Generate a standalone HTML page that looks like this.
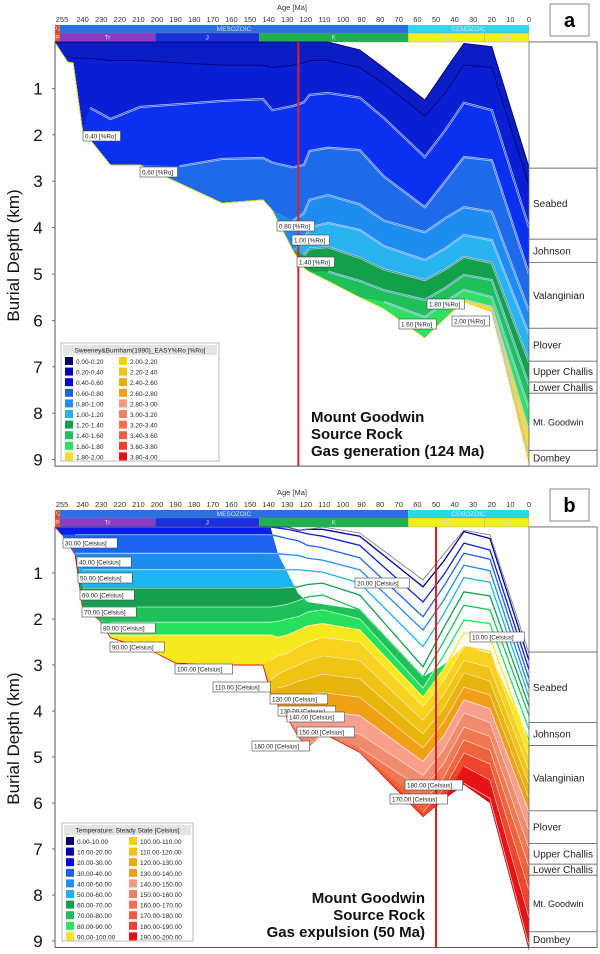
<!DOCTYPE html>
<html><head><meta charset="utf-8">
<style>
html,body{margin:0;padding:0;background:#fff;}
svg{display:block;font-family:"Liberation Sans",sans-serif;}
.tk{font-size:7.5px;fill:#333;text-anchor:middle;}
.lb{font-size:6.3px;fill:#222;}
.fm{font-size:10px;fill:#222;}
.lg{font-size:6.5px;fill:#222;}
.big{font-size:15px;font-weight:bold;fill:#111;}
.ax{font-size:17px;fill:#111;}
</style></head>
<body>
<svg id="fig" width="600" height="954" viewBox="0 0 600 954">
<g id="panelA"></g>
<g id="panelB"></g>
</svg>
<script>
// ---------- Panel A data (EASY%Ro) ----------
const agesA = [255,248,245,240,236,225,209,188,165,143,138,127,121,118,108,91,78,56,45,35,20,0];
const topA  = [0,0,0,0,0,0,0,0,0,0,0,0,0,0,0,0.17,0.56,1.25,0.6,0.03,0.1,2.7];
const baseA = [0,0.43,0.45,1.9,2.1,2.65,2.65,3.04,3.47,3.4,3.62,4.48,4.87,4.95,5.15,5.5,5.75,6.38,5.95,5.6,5.82,9.1];
const ro02 = [0,0.3,0.35,0.35,0.35,0.4,0.4,0.45,0.5,0.5,0.55,0.5,0.45,0.4,0.4,0.55,0.9,1.6,1.1,0.5,0.55,3.1];
const ro04 = [9,9,9,1.9,1.42,1.66,1.4,1.34,1.27,1.23,1.47,1.38,1.3,1.14,1.1,1.2,1.64,2.48,1.9,1.31,1.47,4.0];
const ro06 = [9,9,9,9,9,9,2.65,2.68,2.52,2.5,2.6,2.7,2.65,2.35,2.28,2.33,2.9,3.56,3.0,2.48,2.55,5.0];
const ro08 = [9,9,9,9,9,9,9,9,9,9,3.8,3.85,3.69,3.4,3.3,3.5,3.85,4.1,3.8,3.56,3.66,5.8];
const ro10 = [9,9,9,9,9,9,9,9,9,9,9,9,4.27,4.0,3.9,4.05,4.4,4.7,4.45,4.16,4.27,6.3];
const ro12 = [9,9,9,9,9,9,9,9,9,9,9,9,4.6,4.45,4.42,4.65,4.9,5.13,4.9,4.63,4.76,6.9];
const ro14 = [9,9,9,9,9,9,9,9,9,9,9,9,9,9,4.95,5.15,5.35,5.56,5.3,5.02,5.13,7.4];
const ro16 = [9,9,9,9,9,9,9,9,9,9,9,9,9,9,9,9,5.6,5.93,5.6,5.34,5.5,7.9];
const ro18 = [9,9,9,9,9,9,9,9,9,9,9,9,9,9,9,9,9,9,9,5.56,5.71,8.4];
const ro20 = [9,9,9,9,9,9,9,9,9,9,9,9,9,9,9,9,9,9,9,9,5.78,8.9];
const roLines = [ro02,ro04,ro06,ro08,ro10,ro12,ro14,ro16,ro18,ro20];
const roBandColors = ["#0a1cc4","#0a1ed4","#0a30f0","#1e6ae8","#1e8cf0","#28b4f0","#12a048","#1ec05a","#30e060","#f8e020","#f8d010"];
const roLegendLabels = ["0.00-0.20","0.20-0.40","0.40-0.60","0.60-0.80","0.80-1.00","1.00-1.20","1.20-1.40","1.40-1.60","1.60-1.80","1.80-2.00","2.00-2.20","2.20-2.40","2.40-2.60","2.60-2.80","2.80-3.00","3.00-3.20","3.20-3.40","3.40-3.60","3.60-3.80","3.80-4.00"];
const roLegendColors = ["#00006e","#0000b4","#0000f0","#2060e8","#2090f0","#20b0f0","#10a050","#20c060","#30e060","#f8e020","#f8d010","#f8c010","#e8b000","#f0a010","#f89880","#f08060","#f07050","#f06040","#f04030","#e81010"];
const roLabels = [["0.40 [%Ro]",83,131],["0.60 [%Ro]",140,167],["0.80 [%Ro]",277,221],["1.00 [%Ro]",292,235],["1.40 [%Ro]",297,257],["1.60 [%Ro]",399,319],["1.80 [%Ro]",427,299],["2.00 [%Ro]",452,316]];

// ---------- Panel B data (Temperature) ----------
const agesB = [255,251,244,240,231,225,204,190,170,143,139,135,130,124,119,111,91,57,46,35,21,0];
const topB  = [0,0,0,0,0,0,0,0,0,0,0,0,0,0.07,0.05,0,0.13,1.15,0.6,0.07,0.17,2.75];
const baseB = [0,0.17,0.6,1.76,2.02,2.41,2.67,2.96,3.0,3.0,3.6,3.87,4.15,4.56,4.8,4.48,4.9,6.3,5.93,5.6,6.0,9.2];
const cutB  = [0,0,0,0,0,0,0,0,0,0,0,0.58,0.98,1.45,1.63,1.68,1.8,3.26,3.0,2.6,2.75,4.6];
const t10 = [0,0,0,0,0,0,0,0,0,0,0,0,0,0.07,0.05,0.05,0.2,1.3,0.75,0.1,0.25,2.9];
const t20 = [0,0,0,0,0,0,0,0,0,0,0,0.02,0.05,0.1,0.15,0.2,0.4,1.63,1.05,0.35,0.5,3.1];
const t30 = [0.17,0.17,0.17,0.17,0.17,0.17,0.17,0.17,0.17,0.17,0.17,0.2,0.25,0.3,0.4,0.45,0.67,1.95,1.3,0.57,0.7,3.3];
const t40 = [0.57,0.57,0.57,0.57,0.57,0.57,0.57,0.57,0.57,0.57,0.57,0.58,0.6,0.62,0.68,0.72,0.93,2.24,1.6,0.83,0.95,3.5];
const t50 = [0.93,0.93,0.93,0.93,0.93,0.93,0.93,0.93,0.93,0.93,0.93,0.93,0.93,0.93,0.95,0.98,1.22,2.6,1.9,1.1,1.2,3.7];
const t60 = [1.33,1.33,1.33,1.33,1.33,1.33,1.33,1.33,1.33,1.33,1.33,1.33,1.32,1.3,1.25,1.22,1.48,3.04,2.2,1.41,1.5,3.9];
const t70 = [1.74,1.74,1.74,1.74,1.74,1.74,1.74,1.74,1.74,1.74,1.74,1.72,1.68,1.6,1.52,1.48,1.8,3.26,2.5,1.7,1.8,4.1];
const t80 = [2.07,2.07,2.07,2.07,2.07,2.07,2.07,2.07,2.07,2.07,2.07,2.05,2.0,1.95,1.85,1.8,2.0,3.5,2.8,2.02,2.1,4.4];
const t90 = [2.35,2.35,2.35,2.35,2.35,2.35,2.35,2.35,2.35,2.35,2.35,2.4,2.35,2.25,2.15,2.1,2.24,3.7,3.1,2.3,2.4,4.7];
const t100 = [3.05,3.05,3.05,3.05,3.05,3.05,3.05,3.05,3.05,3.05,2.9,2.8,2.75,2.6,2.5,2.4,2.5,3.9,3.35,2.6,2.7,5.0];
const t110 = [3.33,3.33,3.33,3.33,3.33,3.33,3.33,3.33,3.33,3.33,3.33,3.2,3.1,3.0,2.9,2.8,2.9,4.2,3.65,2.9,3.05,5.3];
const t120 = [3.6,3.6,3.6,3.6,3.6,3.6,3.6,3.6,3.6,3.6,3.6,3.5,3.45,3.35,3.3,3.2,3.3,4.5,3.95,3.17,3.35,5.6];
const t130 = [3.87,3.87,3.87,3.87,3.87,3.87,3.87,3.87,3.87,3.87,3.87,3.87,3.8,3.7,3.65,3.6,3.7,4.8,4.25,3.48,3.65,5.9];
const t140 = [4.15,4.15,4.15,4.15,4.15,4.15,4.15,4.15,4.15,4.15,4.15,4.1,4.15,4.05,4.0,4.0,4.1,5.1,4.55,3.76,3.95,6.2];
const t150 = [4.56,4.56,4.56,4.56,4.56,4.56,4.56,4.56,4.56,4.56,4.56,4.56,4.5,4.45,4.4,4.35,4.5,5.4,4.85,4.04,4.25,6.6];
const t160 = [4.85,4.85,4.85,4.85,4.85,4.85,4.85,4.85,4.85,4.85,4.85,4.85,4.85,4.8,4.75,9,4.8,5.7,5.15,4.35,4.55,7.0];
const t170 = [9,9,9,9,9,9,9,9,9,9,9,9,9,9,9,9,9,6.0,5.45,4.63,4.85,7.4];
const t180 = [9,9,9,9,9,9,9,9,9,9,9,9,9,9,9,9,9,6.2,5.7,4.91,5.15,7.9];
const t190 = [9,9,9,9,9,9,9,9,9,9,9,9,9,9,9,9,9,9,9,5.2,5.5,8.5];
const t200 = [9,9,9,9,9,9,9,9,9,9,9,9,9,9,9,9,9,9,9,5.57,5.9,9.1];
const tLines = [t10,t20,t30,t40,t50,t60,t70,t80,t90,t100,t110,t120,t130,t140,t150,t160,t170,t180,t190,t200];
const tBandColors = ["#00006e","#0000a8","#0a1ee6","#1e64f0","#1e8cf0","#1eb4f0","#14a050","#1ec05a","#28e060","#f8e81e","#f8d21e","#f0c414","#e6b40a","#f0a014","#f8a08c","#f08c6e","#f07855","#f0643c","#f0462d","#e61414","#d01010"];
const tLegendLabels = ["0.00-10.00","10.00-20.00","20.00-30.00","30.00-40.00","40.00-50.00","50.00-60.00","60.00-70.00","70.00-80.00","80.00-90.00","90.00-100.00","100.00-110.00","110.00-120.00","120.00-130.00","130.00-140.00","140.00-150.00","150.00-160.00","160.00-170.00","170.00-180.00","180.00-190.00","190.00-200.00"];
const tLegendColors = ["#00006e","#0000b4","#0000f0","#2060e8","#2090f0","#20b0f0","#10a050","#20c060","#30e060","#f8e020","#f8d010","#f8c010","#e8b000","#f0a010","#f89880","#f08060","#f07050","#f06040","#f04030","#e81010"];
const tLabels = [["30.00 [Celsius]",63,538],["40.00 [Celsius]",77,557],["50.00 [Celsius]",78,573],["60.00 [Celsius]",80,590],["70.00 [Celsius]",82,607],["80.00 [Celsius]",101,623],["90.00 [Celsius]",110,642],["100.00 [Celsius]",175,664],["110.00 [Celsius]",213,682],["120.00 [Celsius]",270,694],["130.00 [Celsius]",278,706],["140.00 [Celsius]",287,712],["150.00 [Celsius]",297,727],["160.00 [Celsius]",252,741],["20.00 [Celsius]",355,578],["10.00 [Celsius]",470,632],["180.00 [Celsius]",405,780],["170.00 [Celsius]",390,794]];

// ---------- shared ----------
const ageTicks = [255,240,230,220,210,200,190,180,170,160,150,140,130,120,110,100,90,80,70,60,50,40,30,20,10,0];
const depthTicks = [1,2,3,4,5,6,7,8,9];
const formations = ["","Seabed","Johnson","Valanginian","Plover","Upper Challis","Lower Challis","Mt. Goodwin","Dombey"];
const formationTops = [0,2.72,4.25,4.75,6.17,6.88,7.33,7.57,8.8,9.14];
const eras = [["PZ",260,252.2,"#e04020"],["MESOZOIC",252.2,65,"#2a70e0"],["CENOZOIC",65,0,"#30d4ec"]];
const periods = [["P",260,252.2,"#f05020"],["Tr",252.2,201,"#8a3cc8"],["J",201,145,"#1a30e0"],["K",145,65,"#20b050"],["Pg",65,24,"#f0f020"],["Ng",24,0,"#f0f020"]];

const NS = "http://www.w3.org/2000/svg";
function mk(parent, tag, attrs, text){
  const e = document.createElementNS(NS, tag);
  for (const k in attrs) e.setAttribute(k, attrs[k]);
  if (text !== undefined) e.textContent = text;
  parent.appendChild(e);
  return e;
}
const xAge = a => 529 - 1.86 * a;

function drawPanel(g, cfg){
  const y = d => cfg.y0 + cfg.k * d;
  const A = cfg.ages, T = cfg.top, B = cfg.base;
  const cl = (v,i) => Math.min(Math.max(v, T[i]), B[i]);
  const lines = [T].concat(cfg.lines).concat([B]);
  const hy = cfg.y0;
  let t = mk(g,'text',{x:292,y:hy-32,'class':'tk'},'Age [Ma]');
  
  
  ageTicks.forEach(a=>{
    const e = mk(g,'text',{x:(a===255?62:xAge(a)),y:hy-20,'class':'tk'},String(a));
    
    
  });
  eras.forEach(p=>{
    const r = mk(g,'rect',{x:Math.max(55,xAge(p[1])),y:hy-17,width:xAge(p[2])-Math.max(55,xAge(p[1])),height:8,fill:p[3]});
    
    
    const tx = mk(g,'text',{x:(Math.max(55,xAge(p[1]))+xAge(p[2]))/2,y:hy-11,'class':'tk',style:'fill:#cfe4ff;font-size:6.5px'},p[0]);
    
    
  });
  periods.forEach(p=>{
    const r = mk(g,'rect',{x:Math.max(55,xAge(p[1])),y:hy-9,width:xAge(p[2])-Math.max(55,xAge(p[1])),height:9,fill:p[3],stroke:'#888','stroke-width':0.3});
    
    
    const tx = mk(g,'text',{x:(Math.max(55,xAge(p[1]))+xAge(p[2]))/2,y:hy-2.5,'class':'tk',style:'fill:#dde;font-size:6.5px'},p[0]);
    
    
  });
  let fillGroup = mk(g,'g',{});
  
  
  if (cfg.cut){
    const id = 'clip'+cfg.id;
    const cp = mk(g,'clipPath',{id:id});
    let pts = A.map((a,i)=>xAge(a)+','+y(Math.max(cfg.cut[i],T[i])));
    pts.push(xAge(0)+','+y(10)); pts.push(xAge(A[0])+','+y(10));
    mk(cp,'polygon',{points:pts.join(' ')});
    fillGroup.setAttribute('clip-path','url(#'+id+')');
  }
  for (let b=0;b<lines.length-1;b++){
    const up = lines[b], lo = lines[b+1];
    const pts = [];
    A.forEach((a,i)=>pts.push(xAge(a)+','+y(cl(up[i],i))));
    for (let i=A.length-1;i>=0;i--) pts.push(xAge(A[i])+','+y(cl(lo[i],i)));
    const p = mk(fillGroup,'polygon',{points:pts.join(' '),fill:cfg.colors[b],stroke:cfg.colors[b],'stroke-width':0.4});
    
    
  }
  cfg.lines.forEach((L,li)=>{
    let seg=[];
    const segs=[];
    A.forEach((a,i)=>{
      const v = cl(L[i],i);
      if (v < B[i]-0.005 && v > T[i]+0.005 || (seg.length && v < B[i]-0.005)) seg.push(xAge(a)+','+y(v));
      else { if (seg.length) { seg.push(xAge(a)+','+y(v)); segs.push(seg);} seg=[]; if (v < B[i]-0.005) seg.push(xAge(a)+','+y(v)); }
    });
    if (seg.length>1) segs.push(seg);
    segs.forEach(s=>{
      if (s.length<2) return;
      if (cfg.cut){
        const l1 = mk(g,'polyline',{points:s.join(' '),fill:'none',stroke:cfg.colors[li+1],'stroke-width':1.3});
        
        
        const l2 = mk(g,'polyline',{points:s.join(' '),fill:'none',stroke:'#ffffff','stroke-width':0.7,'clip-path':'url(#clip'+cfg.id+')',opacity:0.8});
        
        
      } else {
        const w = li===0 ? 0.8 : 2.2;
        const l1 = mk(g,'polyline',{points:s.join(' '),fill:'none',stroke:li===0?'#000070':'#b8c8ff','stroke-width':w});
        
        
        if (li>0){
          const l2 = mk(g,'polyline',{points:s.join(' '),fill:'none',stroke:cfg.colors[li+1],'stroke-width':0.7});
          
          
        }
      }
    });
  });
  const ol = mk(g,'polyline',{points:A.map((a,i)=>xAge(a)+','+y(T[i])).join(' '),fill:'none',stroke:cfg.cut?'#777':'#000060','stroke-width':0.8});
  
  
  const yb = y(9.14);
  const ax = mk(g,'path',{d:`M55 ${cfg.y0} V${yb} H597 V${cfg.y0} H529`,fill:'none',stroke:'#555','stroke-width':1});
  
  
  depthTicks.forEach(d=>{
    mk(g,'line',{x1:52,x2:55,y1:y(d),y2:y(d),stroke:'#555','stroke-width':0.8});
    const e = mk(g,'text',{x:38,y:y(d)+6,'class':'ax','text-anchor':'middle'},String(d));
    
    
  });
  const yt = mk(g,'text',{x:0,y:0,'class':'ax',transform:`translate(19 ${y(4.6)}) rotate(-90)`,'text-anchor':'middle'},'Burial Depth (km)');
  
  
  for (let i=0;i<formations.length;i++){
    const r = mk(g,'rect',{x:529,y:y(formationTops[i]),width:68,height:y(formationTops[i+1])-y(formationTops[i]),fill:'#fff',stroke:'#666','stroke-width':0.8});
    
    
    if (formations[i]){
      const h = y(formationTops[i+1])-y(formationTops[i]);
      const e = mk(g,'text',{x:533,y:y(formationTops[i])+h/2+3.5,'class':'fm',style:formations[i]==='Mt. Goodwin'?'font-size:9px':''},formations[i]);
      
      
    }
  }
  const rl = mk(g,'line',{x1:xAge(cfg.event),x2:xAge(cfg.event),y1:cfg.y0,y2:yb,stroke:'#e02020','stroke-width':2});
  
  
  cfg.labels.forEach(l=>{
    const w = l[0].length*3.35+4;
    const bx = mk(g,'rect',{x:l[1],y:l[2],width:w,height:10,fill:'#fff',stroke:'#444','stroke-width':0.6});
    
    
    const e = mk(g,'text',{x:l[1]+2,y:l[2]+7.5,'class':'lb'},l[0]);
    
    
  });
  const L = cfg.legend;
  const lgb = mk(g,'rect',{x:L.x,y:L.y,width:L.w,height:118,fill:'#fff',stroke:'#bbb','stroke-width':1});
  
  
  mk(g,'rect',{x:L.x+2,y:L.y+2,width:L.w-4,height:10,fill:'#e4e4e4'});
  const lt = mk(g,'text',{x:L.x+L.w/2,y:L.y+9.5,'class':'lg','text-anchor':'middle'},L.title);
  
  
  L.labels.forEach((s,i)=>{
    const col = Math.floor(i/10), row = i%10;
    const sx = L.x + 4 + col*L.col2, sy = L.y + 14 + row*10.6;
    const sw = mk(g,'rect',{x:sx,y:sy,width:8,height:8,fill:L.colors[i]});
    
    
    const e = mk(g,'text',{x:sx+11,y:sy+7,'class':'lg'},s);
    
    
  });
  cfg.note.forEach((s,i)=>{
    const e = mk(g,'text',{x:cfg.noteX,y:cfg.noteY+i*17,'class':'big','text-anchor':cfg.noteAnchor},s);
    
    
  });
  const pb = mk(g,'rect',{x:550,y:cfg.y0-38,width:39,height:32,fill:'#fff',stroke:'#888','stroke-width':1});
  
  
  const pl = mk(g,'text',{x:569.5,y:cfg.y0-15,'text-anchor':'middle',style:'font-size:20px;font-weight:bold'},cfg.id);
  
  
}

drawPanel(document.getElementById('panelA'),{
  id:'a', y0:42, k:46.4, ages:agesA, top:topA, base:baseA, lines:roLines, colors:roBandColors,
  event:124, labels:roLabels,
  legend:{x:61,y:343,w:158,col2:54,title:'Sweeney&Burnham(1990)_EASY%Ro [%Ro]',labels:roLegendLabels,colors:roLegendColors},
  note:['Mount Goodwin','Source Rock','Gas generation (124 Ma)'], noteX:311, noteY:422, noteAnchor:'start'
});
drawPanel(document.getElementById('panelB'),{
  id:'b', y0:527, k:46, ages:agesB, top:topB, base:baseB, cut:cutB, lines:tLines, colors:tBandColors,
  event:50, labels:tLabels,
  legend:{x:62,y:823,w:131,col2:63,title:'Temperature: Steady State [Celsius]',labels:tLegendLabels,colors:tLegendColors},
  note:['Mount Goodwin','Source Rock','Gas expulsion (50 Ma)'], noteX:425, noteY:903, noteAnchor:'end'
});
</script>
</body></html>
